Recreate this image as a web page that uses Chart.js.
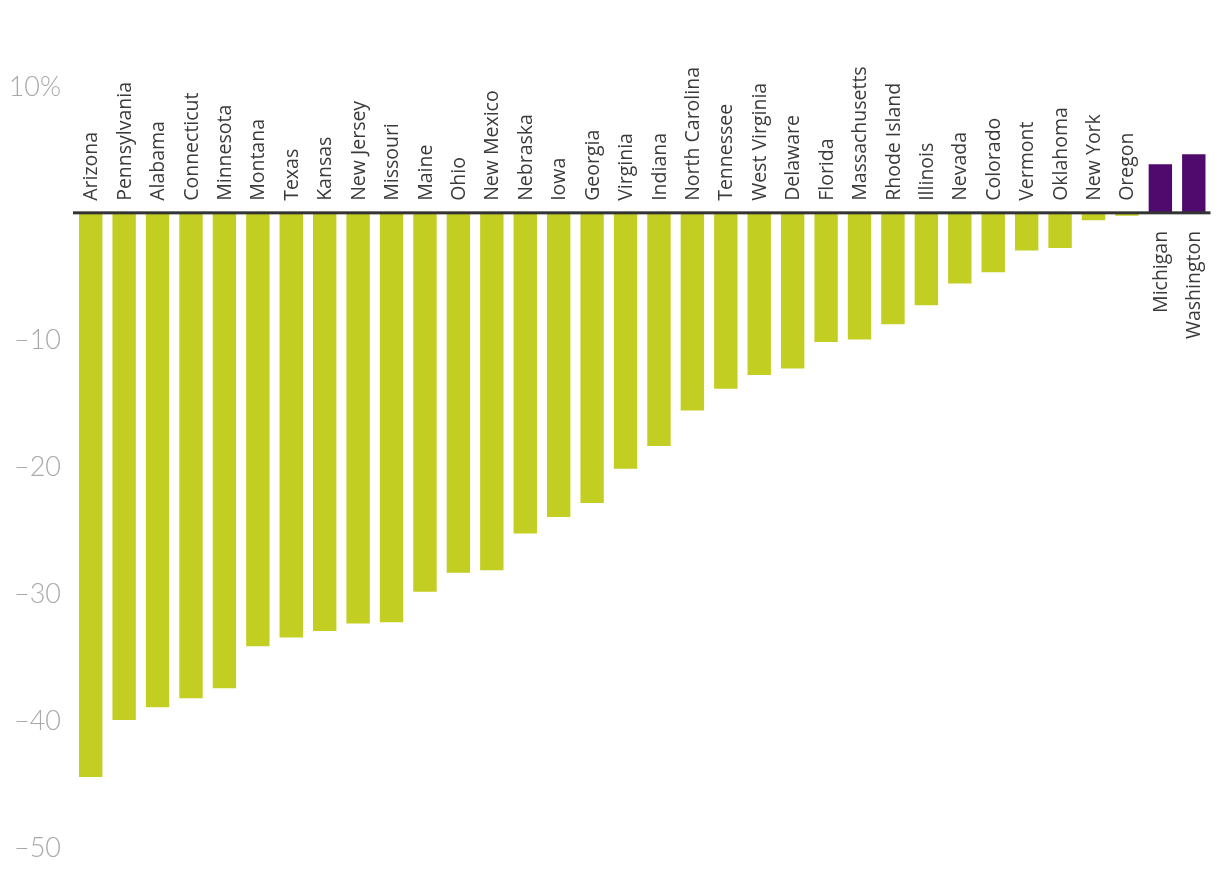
<!DOCTYPE html>
<html>
<head>
<meta charset="utf-8">
<script src="https://cdn.jsdelivr.net/npm/chart.js@4/dist/chart.umd.min.js"></script>
<style>
  html, body { margin: 0; padding: 0; background: #ffffff; }
  #wrap { width: 1220px; height: 880px; position: relative; }
</style>
</head>
<body>
<div id="wrap"><canvas id="c" width="1220" height="880"></canvas></div>
<script>
const states = ["Arizona","Pennsylvania","Alabama","Connecticut","Minnesota","Montana","Texas","Kansas","New Jersey","Missouri","Maine","Ohio","New Mexico","Nebraska","Iowa","Georgia","Virginia","Indiana","North Carolina","Tennessee","West Virginia","Delaware","Florida","Massachusetts","Rhode Island","Illinois","Nevada","Colorado","Vermont","Oklahoma","New York","Oregon","Michigan","Washington"];
const changes = [-44.4,-39.9,-38.9,-38.2,-37.4,-34.1,-33.4,-32.9,-32.3,-32.2,-29.8,-28.3,-28.1,-25.2,-23.9,-22.8,-20.1,-18.3,-15.5,-13.8,-12.7,-12.2,-10.1,-9.9,-8.7,-7.2,-5.5,-4.6,-2.9,-2.7,-0.5,-0.15,3.9,4.7];
const yTicks = [10, 0, -10, -20, -30, -40, -50];
const yTickLabels = ["10%", "", "\u201310", "\u201320", "\u201330", "\u201340", "\u201350"];

const GREEN = "#c2cf22";
const PURPLE = "#500a6e";

const labelPlugin = {
  id: "stateLabels",
  afterDatasetsDraw(chart) {
    const ctx = chart.ctx;
    const y = chart.scales.y;
    const area = chart.chartArea;
    const y0 = y.getPixelForValue(0);
    ctx.save();
    ctx.fillStyle = "#333333";
    ctx.fillRect(area.left - 1, y0 - 2.5, area.right - area.left + 1, 3);
    ctx.font = "400 19.5px 'Open Sans'";
    ctx.fillStyle = "#3a3a3a";
    ctx.textBaseline = "middle";
    const meta = chart.getDatasetMeta(0);
    states.forEach((s, i) => {
      const bx = meta.data[i].x;
      ctx.save();
      if (changes[i] < 0) {
        ctx.translate(bx, y0 - 13);
        ctx.rotate(-Math.PI / 2);
        ctx.textAlign = "left";
      } else {
        ctx.translate(bx, y0 + 17);
        ctx.rotate(-Math.PI / 2);
        ctx.textAlign = "right";
      }
      ctx.fillText(s, 0, 1);
      ctx.restore();
    });
    ctx.restore();
  }
};

new Chart(document.getElementById("c"), {
  type: "bar",
  data: {
    labels: states,
    datasets: [{
      data: changes,
      backgroundColor: changes.map(v => v < 0 ? GREEN : PURPLE),
      borderWidth: 0,
      barPercentage: 0.70,
      categoryPercentage: 1.0
    }]
  },
  options: {
    responsive: false,
    animation: false,
    devicePixelRatio: 1,
    layout: { padding: { top: 87, bottom: 32, left: 0, right: 9.5 } },
    plugins: { legend: { display: false }, tooltip: { enabled: false } },
    scales: {
      x: {
        display: false,
        offset: true
      },
      y: {
        min: -50,
        max: 10,
        afterFit(scale) { scale.width = 74; },
        afterBuildTicks(scale) { scale.ticks = yTicks.map(v => ({ value: v })); },
        grid: { display: false, drawTicks: false },
        border: { display: false },
        ticks: {
          padding: 13,
          color: "#a9a9a9",
          font: { family: "Lato", size: 27, weight: "300" },
          callback: (v) => {
            const k = yTicks.indexOf(v);
            return k >= 0 ? yTickLabels[k] : "";
          }
        }
      }
    }
  },
  plugins: [labelPlugin]
});
</script>
</body>
</html>
